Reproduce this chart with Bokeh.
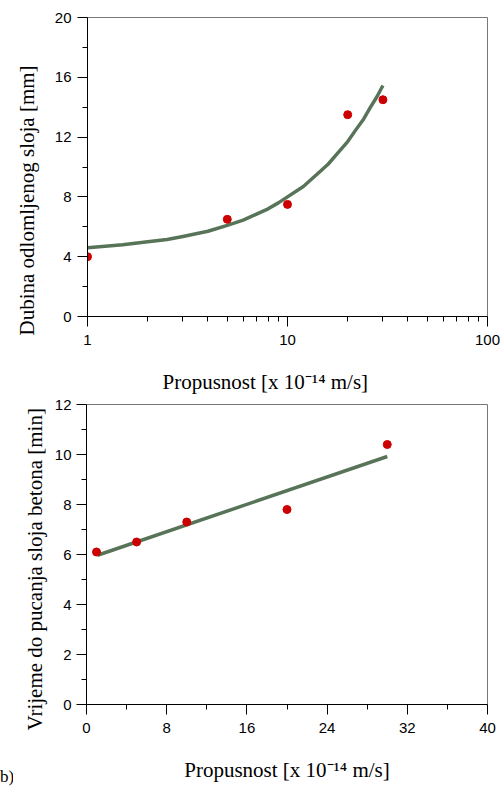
from bokeh.plotting import figure
from bokeh.layouts import column, row
from bokeh.models import Range1d, FixedTicker, Title, NumeralTickFormatter
from bokeh.embed import file_html
from bokeh.resources import INLINE

# ---- Top panel: depth of spalled layer vs permeability (log x) ----
top_perm = [1, 5, 10, 20, 30]
top_depth = [4.0, 6.5, 7.5, 13.5, 14.5]
top_fit_perm = [1, 1.5, 2, 2.5, 3, 4, 5, 6, 7, 8, 9, 10, 12, 14, 16, 18,
                20, 22, 24, 26, 28, 30]
top_fit_depth = [4.6, 4.8, 5.0, 5.15, 5.35, 5.7, 6.1, 6.45, 6.85, 7.2, 7.6, 8.0,
                 8.7, 9.5, 10.2, 11.0, 11.7, 12.5, 13.2, 14.0, 14.7, 15.45]
top_x_major = [1, 10, 100]
top_x_minor = [2, 3, 4, 5, 6, 7, 8, 9, 20, 30, 40, 50, 60, 70, 80, 90]
top_y_major = [0, 4, 8, 12, 16, 20]
top_y_minor = [2, 6, 10, 14, 18]
top_ylabel = "Dubina odlomljenog sloja [mm]"
xlabel = "Propusnost [x 10\u207b\u00b9\u2074 m/s]"

# ---- Bottom panel: time to spalling vs permeability ----
bot_perm = [1, 5, 10, 20, 30]
bot_time = [6.1, 6.5, 7.3, 7.8, 10.4]
bot_fit_perm = [1.1, 30]
bot_fit_time = [5.97, 9.92]
bot_x_major = [0, 8, 16, 24, 32, 40]
bot_x_minor = [4, 12, 20, 28, 36]
bot_y_major = [0, 2, 4, 6, 8, 10, 12]
bot_y_minor = [1, 3, 5, 7, 9, 11]
bot_ylabel = "Vrijeme  do pucanja sloja betona [min]"
panel_tag = "b)"

LINE_COLOR = "#587458"
DOT_COLOR = "#cc0000"
TICK_FONT = "Liberation Sans"
TITLE_FONT = "Liberation Serif"


def style(p):
    p.grid.visible = False
    p.outline_line_color = "#777777"
    p.outline_line_width = 1
    p.background_fill_color = "white"
    p.border_fill_color = "white"
    for ax in p.axis:
        ax.axis_line_color = "black"
        ax.axis_line_width = 1
        ax.major_tick_line_color = "black"
        ax.minor_tick_line_color = "black"
        ax.major_tick_in = 0
        ax.minor_tick_in = 0
        ax.major_tick_out = 10
        ax.minor_tick_out = 5
        ax.major_label_text_font = TICK_FONT
        ax.major_label_text_font_size = "15px"
        ax.major_label_text_color = "black"
        ax.axis_label_text_font = TITLE_FONT
        ax.axis_label_text_font_size = "21px"
        ax.axis_label_text_font_style = "normal"
        ax.axis_label_text_color = "black"


def title(text, offset, standoff):
    return Title(text=text, align="left", offset=offset, standoff=standoff,
                 text_font=TITLE_FONT, text_font_size="21px",
                 text_font_style="normal", text_color="black")


# ---------------- top figure ----------------
p1 = figure(width=500, height=352, x_axis_type="log",
            x_range=Range1d(1, 100), y_range=Range1d(0, 20),
            output_backend="svg", toolbar_location=None,
            min_border_left=86, min_border_right=13,
            min_border_top=17, min_border_bottom=36)
style(p1)
p1.xaxis.ticker = FixedTicker(ticks=top_x_major, minor_ticks=top_x_minor)
p1.xaxis.formatter = NumeralTickFormatter(format="0")
p1.yaxis.ticker = FixedTicker(ticks=top_y_major, minor_ticks=top_y_minor)
p1.xaxis.major_label_standoff = 8
p1.yaxis.major_label_standoff = 6

p1.line(top_fit_perm, top_fit_depth, line_color=LINE_COLOR, line_width=3.5,
        line_join="round")
p1.scatter(top_perm, top_depth, size=8, fill_color=DOT_COLOR, line_color=DOT_COLOR)

p1.add_layout(title(top_ylabel, -19, 25), "left")

# ---------------- panel tag strip ----------------
pb = figure(width=13, height=437, x_range=Range1d(0, 1), y_range=Range1d(0, 1),
            y_axis_location=None,
            output_backend="svg", toolbar_location=None,
            min_border_left=0, min_border_right=0,
            min_border_top=52, min_border_bottom=85, outline_line_color=None)
pb.grid.visible = False
pb.xaxis.ticker = FixedTicker(ticks=[], minor_ticks=[])
pb.xaxis.axis_line_color = None
pb.xaxis.major_tick_out = 0
pb.xaxis.minor_tick_out = 0
pb.xaxis.major_label_standoff = 0
pb.xaxis.major_label_text_font_size = "0px"
pb.xaxis.axis_label = panel_tag
pb.xaxis.axis_label_standoff = 62
pb.xaxis.axis_label_text_font = TITLE_FONT
pb.xaxis.axis_label_text_font_size = "17px"
pb.xaxis.axis_label_text_font_style = "normal"
pb.xaxis.axis_label_text_color = "black"

# ---------------- bottom figure ----------------
p2 = figure(width=487, height=437,
            x_range=Range1d(0, 40), y_range=Range1d(0, 12),
            output_backend="svg", toolbar_location=None,
            min_border_left=73, min_border_right=13,
            min_border_top=52, min_border_bottom=85)
style(p2)
p2.xaxis.ticker = FixedTicker(ticks=bot_x_major, minor_ticks=bot_x_minor)
p2.yaxis.ticker = FixedTicker(ticks=bot_y_major, minor_ticks=bot_y_minor)
p2.xaxis.major_label_standoff = 8
p2.yaxis.major_label_standoff = 5
p2.xaxis.axis_label = xlabel
p2.xaxis.axis_label_standoff = 22

p2.line(bot_fit_perm, bot_fit_time, line_color=LINE_COLOR, line_width=3.5)
p2.scatter(bot_perm, bot_time, size=8, fill_color=DOT_COLOR, line_color=DOT_COLOR)

# x title of the upper chart sits in the gap between the two charts
p2.add_layout(title(xlabel, 76, 22), "above")
p2.add_layout(title(bot_ylabel, -26, 9), "left")

layout = column(p1, row(pb, p2))
open("out.html", "w").write(file_html(layout, INLINE))
